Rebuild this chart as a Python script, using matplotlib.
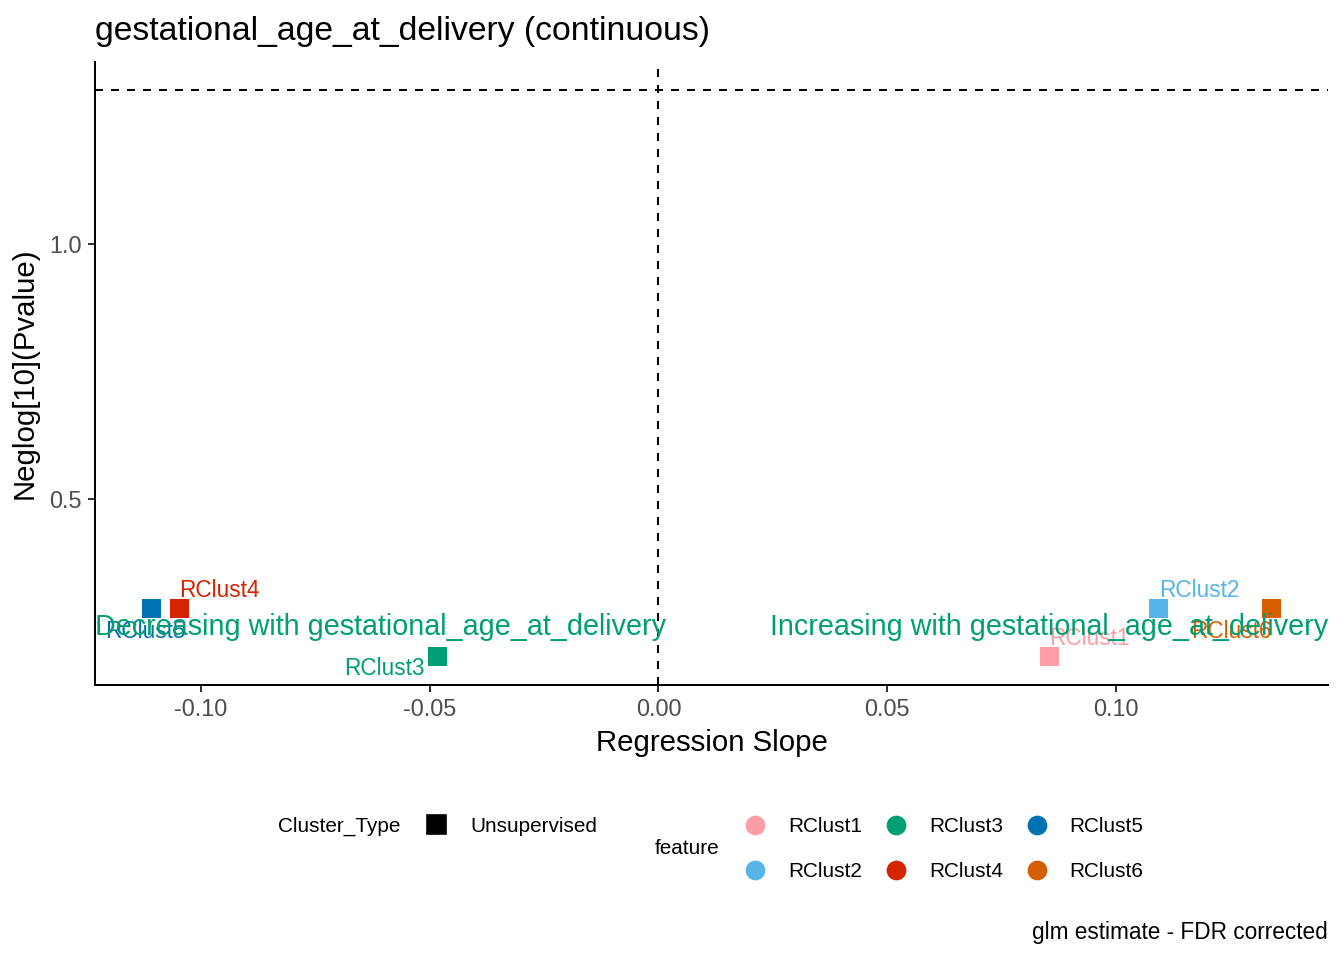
import numpy as np
import matplotlib
matplotlib.use('Agg')
import matplotlib.pyplot as plt
from matplotlib.lines import Line2D

plt.rcParams['font.family'] = ['Liberation Sans', 'DejaVu Sans']
plt.rcParams['axes.unicode_minus'] = False

# values
features = ['RClust1', 'RClust2', 'RClust3', 'RClust4', 'RClust5', 'RClust6']
slope = [0.0854, 0.1094, -0.0483, -0.1046, -0.1109, 0.1341]
neglog_p = [0.191, 0.285, 0.191, 0.285, 0.285, 0.285]
cluster_type = ['Unsupervised']
sig_line = -np.log10(0.05)

colours = ['#FF9DA7', '#56B4E9', '#009E73', '#D52300', '#0072B2', '#D55E00']
# repel-like label offsets (points) from each square
label_offsets = [(15.0, 6.8), (15.0, 6.8), (-19.9, -4.5), (14.8, 6.8), (-2.2, -8.6), (-15.3, -8.6)]

fig = plt.figure(figsize=(7, 5), dpi=192)
ax = fig.add_axes([95 / 1344, 1 - 685 / 960, (1328 - 95) / 1344, (685 - 62) / 960])

ax.axhline(sig_line, color='black', lw=0.75, dashes=(4, 4))
ax.axvline(0, color='black', lw=0.75, dashes=(4, 4))

ax.scatter(slope, neglog_p, marker='s', s=7.1 ** 2, c=colours, linewidths=0, zorder=3)
for f, x, y, c, off in zip(features, slope, neglog_p, colours, label_offsets):
    ax.annotate(f, (x, y), xytext=off, textcoords='offset points', ha='center', va='center',
                fontsize=8.5, color=c, zorder=4)

# direction annotations
trans = ax.get_yaxis_transform()
ax.text(0, 0.25, 'Decreasing with gestational_age_at_delivery', transform=trans, ha='left', va='center',
        fontsize=10.8, color='#009E73', zorder=5)
ax.text(1, 0.25, 'Increasing with gestational_age_at_delivery', transform=trans, ha='right', va='center',
        fontsize=10.8, color='#009E73', zorder=5)

# ggplot style 5% expansion
xr = max(slope) - min(slope)
ax.set_xlim(min(slope) - 0.05 * xr, max(slope) + 0.05 * xr)
ymin, ymax = min(neglog_p), max(max(neglog_p), sig_line)
yr = ymax - ymin
ax.set_ylim(ymin - 0.05 * yr, ymax + 0.05 * yr)

ax.set_xticks([-0.10, -0.05, 0.0, 0.05, 0.10])
ax.set_xticklabels(['%.2f' % v for v in [-0.10, -0.05, 0.0, 0.05, 0.10]])
ax.set_yticks([0.5, 1.0])
ax.set_yticklabels(['0.5', '1.0'])
ax.tick_params(length=2.75, width=0.75, color='#333333', labelcolor='#4D4D4D', labelsize=8.8, pad=2.2)

for s in ['top', 'right']:
    ax.spines[s].set_visible(False)
for s in ['left', 'bottom']:
    ax.spines[s].set_linewidth(0.75)

ax.set_xlabel('Regression Slope', fontsize=11, labelpad=3)
ax.set_ylabel('Neglog[10](Pvalue)', fontsize=11, labelpad=4)
ax.set_title('gestational_age_at_delivery (continuous)', loc='left', fontsize=12.65, pad=8.2)

# legends
leg_fs = 7.8
sq = [Line2D([], [], marker='s', ls='', color='black', ms=6.75)]
leg1 = fig.legend(sq, cluster_type, loc='center left', bbox_to_anchor=(425.6 / 1344, 1 - 826 / 960),
                  frameon=False, borderpad=0, borderaxespad=0, handlelength=1.0, handletextpad=1.13,
                  fontsize=leg_fs)
fig.text(278 / 1344, 1 - 826 / 960, 'Cluster_Type', ha='left', va='center', fontsize=leg_fs)

dots = [Line2D([], [], marker='o', ls='', color=c, ms=6.4) for c in colours]
leg2 = fig.legend(dots, features, loc='center left', bbox_to_anchor=(744.6 / 1344, 1 - 849 / 960), ncol=3,
                  frameon=False, borderpad=0, borderaxespad=0, handlelength=1.0, handletextpad=1.09,
                  columnspacing=1.12, labelspacing=1.26, fontsize=leg_fs)
fig.text(655 / 1344, 1 - 849 / 960, 'feature', ha='left', va='center', fontsize=leg_fs)

fig.text(1328 / 1344, 1 - 933 / 960, 'glm estimate - FDR corrected', ha='right', va='center', fontsize=8.5)

fig.savefig('out.png', dpi=192)
